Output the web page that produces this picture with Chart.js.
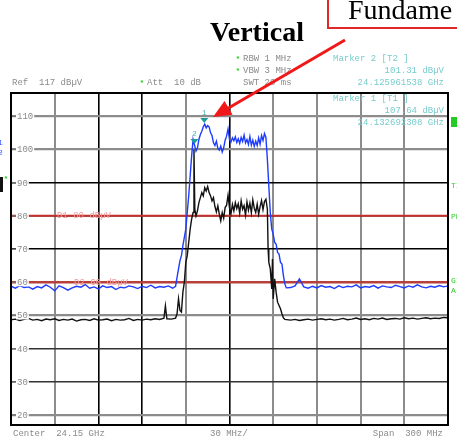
<!DOCTYPE html>
<html><head><meta charset="utf-8">
<script src="https://cdn.jsdelivr.net/npm/chart.js@4/dist/chart.umd.min.js"></script>
<style>html,body{margin:0;padding:0;background:#fff;overflow:hidden}canvas{display:block}</style>
</head><body>
<canvas id="c" width="457" height="440"></canvas>
<script>
// ---- axis definition (frequency offsets in MHz from 24.00 GHz) ----
const startMHz = 24000;
const freqTicksMHz = [0, 30, 60, 90, 120, 150, 180, 210, 240, 270, 300];
const levelTicks = [110, 100, 90, 80, 70, 60, 50, 40, 30, 20];
const refLevel = 117;
const bottomLevel = 17;

// ---- display lines ----
const displayLines = [80, 60];
const displayLineLabels = ['D1 80 dBµV', 'D2 60 dBµV'];

// ---- markers ----
const markerNames = ['1', '2'];
const markerFreqMHz = [132.692308, 125.961538];
const markerLevel = [107.64, 101.31];

// ---- trace 2 (blue, max hold) ----
const blueFreqMHz = [
  0,3,6,9,12,15,18,21,24,27,30,33,36,39,42,45,48,51,54,57,60,63,66,69,72,75,78,81,84,87,90,93,96,99,102,105,108,111,
  113,114,115,116,117,118,119,120,121,122,123,124,125,126,127,128,129,130,131,132,133,134,135,136,137,138,139,140,
  141,142,143,144,145,146,147,148,149,150,151,152,153,154,155,156,157,158,159,160,161,162,163,164,165,166,167,168,
  169,170,171,172,173,174,175,176,177,178,179,180,181,182,183,184,185,186,187,188,189,
  192,195,198,201,204,207,210,213,216,219,222,225,228,231,234,237,240,243,246,249,252,255,258,261,264,267,270,273,
  276,279,282,285,288,291,294,297,300
];
const blueLevel = [
  58.8,58.2,59.0,58.4,58.6,57.9,58.7,58.3,59.2,58.5,57.4,58.9,58.4,57.6,58.3,58.8,58.5,59.3,58.2,58.6,58.0,58.9,58.4,58.7,57.8,58.5,58.3,58.9,58.6,58.1,58.8,58.4,59.1,58.3,58.7,58.5,58.9,58.2,
  58.8,61.5,64,66.5,68,71,73.5,76,81,86,92,98,103,101.3,99.5,100.5,103,104.5,105.5,106.8,107.6,106.5,107.2,106.8,105,104.2,102,101.2,
  102.5,100.3,99.8,101,99.2,100.5,102.8,104,106.2,103,102.2,103.5,102.6,103.8,102.1,103.2,101.8,103.6,102.4,104.3,102,103,101.5,103.9,101.3,102.8,100.9,102.5,
  101.2,103.5,101.6,104.2,102.7,104.8,103.6,97,89,81,76,74.5,72,71.5,69,68.5,66,65.5,62,59.5,58.3,
  58.4,58.9,61.0,58.6,58.2,58.8,58.3,59.0,58.5,58.7,58.1,58.9,58.4,58.8,58.6,59.2,58.3,58.7,58.5,59.0,58.2,58.9,58.6,58.4,59.1,58.7,58.3,58.9,
  58.5,59.2,58.6,58.3,58.8,58.5,59.0,58.6,58.9
];

// ---- trace 1 (black, average) ----
const blackFreqMHz = [
  0,3,6,9,12,15,18,21,24,27,30,33,36,39,42,45,48,51,54,57,60,63,66,69,72,75,78,81,84,87,90,93,96,99,102,105,
  106,107,110,113,114,115,116,117,118,119,120,121,122,123,124,125,125.6,126.2,
  127,128,129,130,131,132,133,134,135,136,137,138,139,140,141,142,143,144,145,146,147,148,149,150,151,152,153,154,155,
  156,157,158,159,160,161,162,163,164,165,166,167,168,169,170,171,172,173,174,175,176,
  176.5,177,178,179,179.5,180,181,182,183,184,185,186,187,188,
  192,195,198,201,204,207,210,213,216,219,222,225,228,231,234,237,240,243,246,249,252,255,258,261,264,267,270,273,
  276,279,282,285,288,291,294,297,300
];
const blackLevel = [
  48.7,48.9,48.5,48.8,49.1,48.6,48.8,48.4,48.9,48.7,49.0,48.5,48.8,48.6,48.9,48.3,48.7,48.8,48.5,49.0,48.6,48.7,48.9,48.4,48.8,48.6,48.7,49.1,48.5,48.8,48.6,48.9,48.7,49.0,48.8,49.2,
  52.9,49.0,48.9,49.2,50.5,55,51.5,51,57,60,66,68,72,76,79,81,100,82,
  80,81.5,84,85.5,87,86,88.5,87.5,88.8,87,86,84.5,85.5,82.8,81.2,83,80.5,78.5,81,79.3,82.5,83.2,86.2,82.4,80.6,83.4,81.5,84,82.2,
  83.6,80.8,84.5,82,83.1,80.2,84.2,81.7,83.8,80.9,84.8,82.3,81,83.5,80.5,82.8,84.6,81.9,84.3,85,82,
  70,66,64,58,67,55,61,57,54,53,52,50.5,49.3,48.8,
  48.6,48.8,48.5,48.7,48.9,48.6,48.8,49.0,48.7,48.9,48.6,48.8,49.1,48.7,48.9,49.2,48.8,49.0,48.7,49.1,48.9,49.2,48.8,49.0,49.1,48.9,49.3,49.0,
  49.2,48.9,49.1,49.3,49.0,49.2,49.1,49.4,49.3
];

// ---- build datasets ----
const toPts = (fx, ly) => fx.map((f, i) => ({x: f, y: ly[i]}));
const blackPts = toPts(blackFreqMHz, blackLevel);
const bluePts = toPts(blueFreqMHz, blueLevel);
const dLinePts = displayLines.map(v => [{x: freqTicksMHz[0], y: v}, {x: freqTicksMHz[freqTicksMHz.length - 1], y: v}]);

const grayV = new Set([30, 120, 180, 210, 240, 270]);
const grayH = new Set([110, 100, 50, 20]);
const darkH = new Set([40, 30]);

const MONO = '9px "Liberation Mono", "DejaVu Sans Mono", monospace';
const GRAY_TXT = '#8a8a8a';
const TEAL_TXT = '#78cccc';

function t(c, s, x, y, color, font, align) {
  c.font = font || MONO;
  c.fillStyle = color;
  c.textAlign = align || 'left';
  c.textBaseline = 'middle';
  c.fillText(s, x, y);
}

const decor = {
  id: 'decor',
  afterDraw(chart) {
    const c = chart.ctx, a = chart.chartArea;
    const xs = chart.scales.x, ys = chart.scales.y;
    c.save();
    // frame
    c.strokeStyle = '#000'; c.lineWidth = 2;
    c.strokeRect(a.left, a.top, a.right - a.left, a.bottom - a.top);

    // level labels
    levelTicks.forEach(v => {
      const py = ys.getPixelForValue(v);
      const s = String(v);
      c.font = MONO;
      const w = c.measureText(s).width;
      c.fillStyle = '#fff';
      c.fillRect(a.left + 5, py - 4, w + 2, 8);
      c.strokeStyle = '#777'; c.lineWidth = 1.2;
      c.beginPath(); c.moveTo(a.left + 1, py); c.lineTo(a.left + 5, py); c.stroke();
      t(c, s, a.left + 6, py + 0.5, GRAY_TXT);
    });

    // display line labels
    const dlx = [57, 74];
    displayLines.forEach((v, i) => {
      t(c, displayLineLabels[i], dlx[i], ys.getPixelForValue(v), '#f09a9a');
    });

    // markers
    markerNames.forEach((n, i) => {
      const px = xs.getPixelForValue(markerFreqMHz[i]);
      const py = ys.getPixelForValue(markerLevel[i]);
      c.fillStyle = '#1e9c9c';
      c.beginPath();
      c.moveTo(px - 4, py - 6); c.lineTo(px + 4, py - 6); c.lineTo(px, py - 1); c.closePath(); c.fill();
      t(c, n, px, py - 11, '#48b4b4', '8px "Liberation Mono", monospace', 'center');
    });

    // header text
    t(c, 'Ref  117 dBµV', 12, 83, GRAY_TXT);
    t(c, '*', 142, 83, '#22cc22', 'bold 8px "Liberation Mono", monospace', 'center');
    t(c, 'Att  10 dB', 147, 83, GRAY_TXT);
    t(c, '*', 238, 59, '#22cc22', 'bold 8px "Liberation Mono", monospace', 'center');
    t(c, '*', 238, 71, '#22cc22', 'bold 8px "Liberation Mono", monospace', 'center');
    t(c, 'RBW 1 MHz', 243, 59, GRAY_TXT);
    t(c, 'VBW 3 MHz', 243, 71, GRAY_TXT);
    t(c, 'SWT 20 ms', 243, 83, GRAY_TXT);

    const fmtF = f => ((startMHz + f) / 1000).toFixed(9) + ' GHz';
    const fmtL = l => l.toFixed(2) + ' dBµV';
    t(c, 'Marker 2 [T2 ]', 333, 59, TEAL_TXT);
    t(c, fmtL(markerLevel[1]), 444, 71, TEAL_TXT, MONO, 'right');
    t(c, fmtF(markerFreqMHz[1]), 444, 83, TEAL_TXT, MONO, 'right');
    t(c, 'Marker 1 [T1 ]', 333, 99, TEAL_TXT);
    t(c, fmtL(markerLevel[0]), 444, 111, TEAL_TXT, MONO, 'right');
    t(c, fmtF(markerFreqMHz[0]), 444, 123, TEAL_TXT, MONO, 'right');

    // footer
    t(c, 'Center  24.15 GHz', 13, 434, GRAY_TXT);
    t(c, '30 MHz/', 210, 434, GRAY_TXT);
    t(c, 'Span  300 MHz', 443, 434, GRAY_TXT, MONO, 'right');

    // side marks
    c.fillStyle = '#22cc22'; c.fillRect(451, 117, 6, 10);
    const sideFont = '8px "Liberation Mono", monospace';
    t(c, 'TI', 451, 186, '#33cc33', sideFont);
    t(c, 'PR', 451, 217, '#33cc33', sideFont);
    t(c, 'GI', 451, 281, '#33cc33', sideFont);
    t(c, 'A', 451, 291, '#33cc33', sideFont);
    t(c, '1', -2, 143, '#3355ff', sideFont);
    t(c, '2', -2, 153, '#3355ff', sideFont);
    c.fillStyle = '#111'; c.fillRect(0, 177, 3, 15);
    t(c, '*', 6, 179, '#22cc22', 'bold 8px "Liberation Mono", monospace', 'center');

    // title
    t(c, 'Vertical', 257, 34, '#000', 'bold 28px "Liberation Serif", "Times New Roman", serif', 'center');

    // annotation box
    c.strokeStyle = '#e02828'; c.lineWidth = 2;
    c.strokeRect(328, -5, 140, 33);
    c.font = '28px "Liberation Serif", "Times New Roman", serif';
    c.fillStyle = '#000'; c.textAlign = 'left'; c.textBaseline = 'alphabetic';
    c.fillText('Fundame', 348, 19);

    // arrow
    const x0 = 345, y0 = 40, x1 = 213, y1 = 117;
    const dx = x1 - x0, dy = y1 - y0, L = Math.hypot(dx, dy), ux = dx / L, uy = dy / L;
    const hl = 18, hw = 8;
    const bx = x1 - ux * hl, by = y1 - uy * hl;
    c.strokeStyle = '#f01818'; c.lineWidth = 3;
    c.beginPath(); c.moveTo(x0, y0); c.lineTo(bx + ux * 2, by + uy * 2); c.stroke();
    c.fillStyle = '#f01818';
    c.beginPath();
    c.moveTo(x1, y1);
    c.lineTo(bx - uy * hw, by + ux * hw);
    c.lineTo(bx + uy * hw, by - ux * hw);
    c.closePath(); c.fill();
    c.restore();
  }
};

new Chart(document.getElementById('c'), {
  type: 'line',
  data: {
    datasets: [
      {data: blackPts, borderColor: '#111', borderWidth: 1.4, pointRadius: 0, tension: 0},
      {data: bluePts, borderColor: '#1e3cff', borderWidth: 1.4, pointRadius: 0, tension: 0},
      {data: dLinePts[0], borderColor: '#c4302b', borderWidth: 2, pointRadius: 0},
      {data: dLinePts[1], borderColor: '#b8403a', borderWidth: 2.4, pointRadius: 0}
    ]
  },
  options: {
    responsive: false, animation: false, devicePixelRatio: 1,
    layout: {padding: {left: 11, right: 9, top: 93, bottom: 15}},
    plugins: {legend: {display: false}, tooltip: {enabled: false}},
    scales: {
      x: {
        type: 'linear', min: freqTicksMHz[0], max: freqTicksMHz[freqTicksMHz.length - 1],
        afterBuildTicks: s => { s.ticks = freqTicksMHz.map(v => ({value: v})); },
        ticks: {display: false},
        border: {display: false},
        grid: {
          drawTicks: false,
          color: ctx => grayV.has(ctx.tick.value) ? '#8c8c8c' : '#000',
          lineWidth: ctx => grayV.has(ctx.tick.value) ? 2 : 1.6
        }
      },
      y: {
        type: 'linear', min: bottomLevel, max: refLevel,
        afterBuildTicks: s => { s.ticks = levelTicks.map(v => ({value: v})); },
        ticks: {display: false},
        border: {display: false},
        grid: {
          drawTicks: false,
          color: ctx => grayH.has(ctx.tick.value) ? '#8c8c8c' : (darkH.has(ctx.tick.value) ? '#333' : '#000'),
          lineWidth: ctx => grayH.has(ctx.tick.value) ? 2.2 : 1.6
        }
      }
    }
  },
  plugins: [decor]
});
</script>
</body></html>
